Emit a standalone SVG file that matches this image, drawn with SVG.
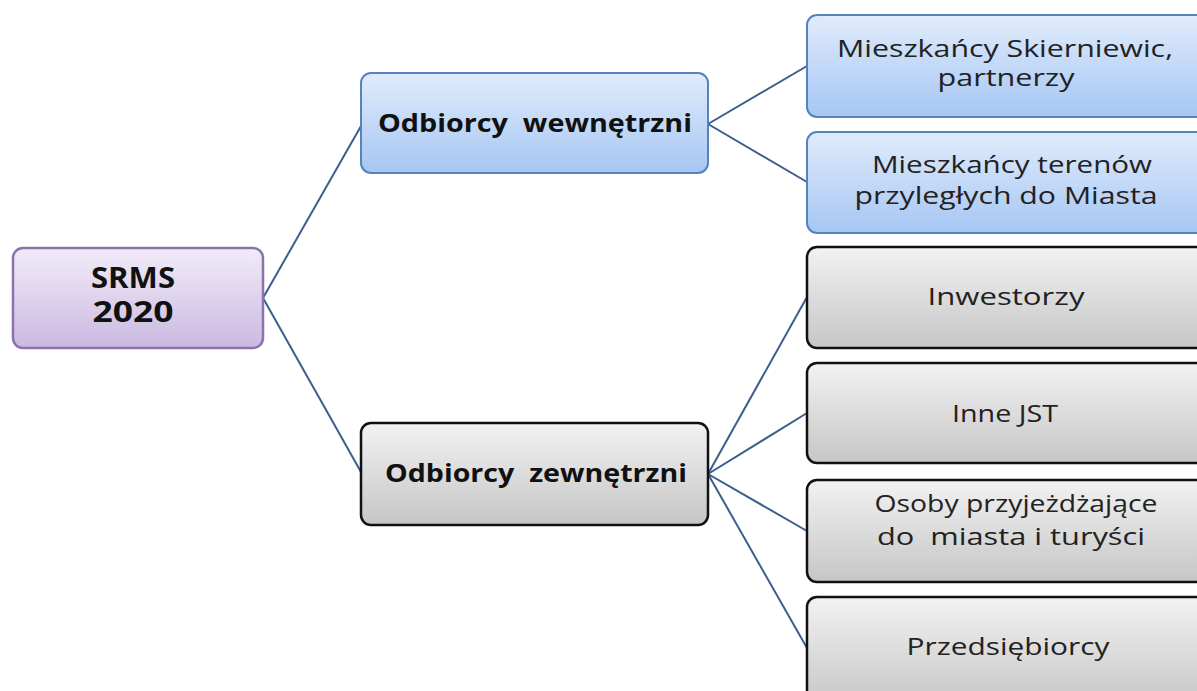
<svg xmlns="http://www.w3.org/2000/svg" width="1197" height="691" viewBox="0 0 1197 691">
<defs>
<linearGradient id="gPurple" x1="0" y1="0" x2="0" y2="1"><stop offset="0" stop-color="#f1ecf8"/><stop offset="1" stop-color="#cbb9e2"/></linearGradient>
<linearGradient id="gBlue" x1="0" y1="0" x2="0" y2="1"><stop offset="0" stop-color="#e0ecfc"/><stop offset="1" stop-color="#a6c6f3"/></linearGradient>
<linearGradient id="gGray" x1="0" y1="0" x2="0" y2="1"><stop offset="0" stop-color="#f2f2f2"/><stop offset="1" stop-color="#c6c6c6"/></linearGradient>
<style>
.purple{fill:url(#gPurple);stroke:#8b73ab;stroke-width:2.5}
.blue{fill:url(#gBlue);stroke:#5682bd;stroke-width:2}
.gray{fill:url(#gGray);stroke:#111;stroke-width:2.5}
.b{font-family:"Open Sans","DejaVu Sans",sans-serif;font-weight:bold;fill:#111;text-anchor:middle}
.r{font-family:"Open Sans","DejaVu Sans",sans-serif;fill:#222;text-anchor:middle;font-size:24px}
.conn line{stroke:#3d5e8c;stroke-width:2}
</style>
</defs>
<g class="conn">
<line x1="263" y1="298" x2="361" y2="126"/>
<line x1="263" y1="298" x2="361" y2="472"/>
<line x1="708" y1="124" x2="807" y2="66"/>
<line x1="708" y1="124" x2="807" y2="182"/>
<line x1="708" y1="474" x2="807" y2="297"/>
<line x1="708" y1="474" x2="807" y2="413"/>
<line x1="708" y1="474" x2="807" y2="531"/>
<line x1="708" y1="474" x2="807" y2="648"/>
</g>
<g id="srms"><rect class="purple" x="13" y="248" width="250" height="100" rx="10"/><text class="b" font-size="28" x="133" y="288" textLength="84" lengthAdjust="spacingAndGlyphs">SRMS</text><text class="b" font-size="28" x="133" y="322" textLength="81" lengthAdjust="spacingAndGlyphs">2020</text></g>
<g id="wewn"><rect class="blue" x="361" y="73" width="347" height="100" rx="10"/><text class="b" font-size="25" x="535" y="132" xml:space="preserve" textLength="314" lengthAdjust="spacingAndGlyphs">Odbiorcy  wewnętrzni</text></g>
<g id="zewn"><rect class="gray" x="361" y="423" width="347" height="102" rx="10"/><text class="b" font-size="25" x="536" y="482" xml:space="preserve" textLength="302" lengthAdjust="spacingAndGlyphs">Odbiorcy  zewnętrzni</text></g>
<g id="n1"><rect class="blue" x="807" y="15" width="400" height="102" rx="10"/><text class="r" x="1005" y="57" textLength="336" lengthAdjust="spacingAndGlyphs">Mieszkańcy Skierniewic,</text><text class="r" x="1006" y="86" textLength="137" lengthAdjust="spacingAndGlyphs">partnerzy</text></g>
<g id="n2"><rect class="blue" x="807" y="132" width="400" height="101" rx="10"/><text class="r" x="1012" y="173" textLength="280" lengthAdjust="spacingAndGlyphs">Mieszkańcy terenów</text><text class="r" x="1006" y="204" textLength="303" lengthAdjust="spacingAndGlyphs">przyległych do Miasta</text></g>
<g id="n3"><rect class="gray" x="807" y="247" width="400" height="101" rx="10"/><text class="r" x="1006" y="305" textLength="157" lengthAdjust="spacingAndGlyphs">Inwestorzy</text></g>
<g id="n4"><rect class="gray" x="807" y="363" width="400" height="100" rx="10"/><text class="r" x="1005" y="422" textLength="106" lengthAdjust="spacingAndGlyphs">Inne JST</text></g>
<g id="n5"><rect class="gray" x="807" y="480" width="400" height="102" rx="10"/><text class="r" x="1016" y="512" textLength="283" lengthAdjust="spacingAndGlyphs">Osoby przyjeżdżające</text><text class="r" x="1011" y="545" xml:space="preserve" textLength="268" lengthAdjust="spacingAndGlyphs">do  miasta i turyści</text></g>
<g id="n6"><rect class="gray" x="807" y="597" width="400" height="110" rx="10"/><text class="r" x="1008" y="655" textLength="203" lengthAdjust="spacingAndGlyphs">Przedsiębiorcy</text></g>
</svg>
